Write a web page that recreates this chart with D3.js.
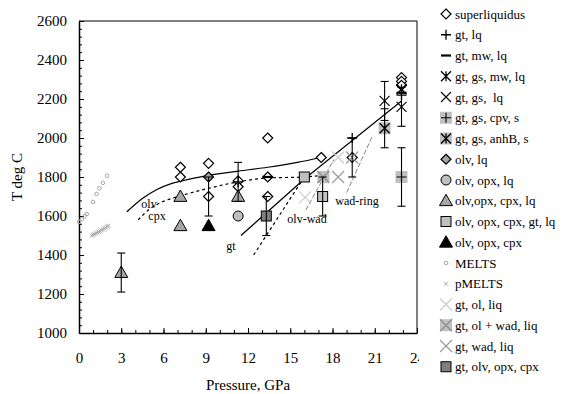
<!DOCTYPE html>
<html>
<head>
<meta charset="utf-8">
<script src="https://cdn.jsdelivr.net/npm/d3@7"></script>
<style>
  body { margin: 0; background: #fff; }
  svg text { font-family: "Liberation Serif", "DejaVu Serif", serif !important; }
  .leg text { white-space: pre; }
</style>
</head>
<body>
<svg id="chart" width="563" height="394"></svg>
<script>
// Data: [pressure GPa, T deg C]
var superliquidus = [[7.2,1850],[7.2,1800],[9.2,1870],[9.2,1700],[11.3,1780],[11.3,1750],
  [13.4,2000],[13.4,1800],[13.4,1700],[17.2,1900],[19.4,1900],[22.9,2310],[22.9,2290],[22.9,2270]];
var gtLq = [[11.3,1775],[19.4,2000],[22.9,2220]];
var gtMwLq = [[13.4,1800],[22.9,2232]];
var gtGsMwLq = [[22.9,2250]];
var gtGsLq = [[21.7,2190],[22.9,2160]];
var gtGsCpvS = [[22.9,1800]];
var gtGsAnhBS = [[21.7,2050]];
var olvLq = [[9.2,1800]];
var olvOpxLq = [[11.3,1600]];
var olvOpxCpxLq = [[3.0,1310],[7.2,1700],[7.2,1550],[11.3,1700]];
var olvOpxCpxGtLq = [[16.0,1800],[17.3,1700]];
var olvOpxCpx = [[9.2,1550]];
var melts = [[0.0,1570],[0.2,1583],[0.4,1598],[0.55,1610],[1.0,1672],[1.25,1713],[1.45,1742],[1.7,1770],[2.0,1806]];
var pmelts = [[0.9,1500],[1.0,1504],[1.1,1507],[1.2,1511],[1.3,1515],[1.4,1519],[1.5,1522],
  [1.6,1527],[1.7,1531],[1.8,1536],[1.9,1541],[2.0,1546],[2.08,1550]];
var gtOlLiq = [[16.05,1695],[18.4,1900]];
var gtOlWadLiq = [[17.35,1800]];
var gtWadLiq = [[18.4,1800],[19.4,1900]];
var gtOlvOpxCpx = [[13.3,1600]];

// error bars: [P, T, +/-]
var errorBars = [[3.0,1310,100],[9.2,1700,100],[11.3,1775,100],[13.3,1600,100],[17.3,1700,100],
  [19.4,1900,100],[21.7,2190,100],[21.7,2050,100],[22.9,2160,100],[22.9,1800,150]];

// phase boundary curves
var olvLine = [[3.4,1622],[4.5,1690],[5.5,1735],[6.5,1765],[7.2,1778],[9.2,1808],[11.3,1830],[13.4,1850],[15.5,1875],[17.2,1900]];
var cpxLine = [[4.2,1580],[5.0,1635],[6.0,1675],[7.2,1703],[9.2,1742],[11.3,1775],[13.4,1795],[16.0,1800],[17.4,1810]];
var gtLine = [[11.5,1500],[16.0,1790],[22.9,2190]];
var gtDashLine = [[12.4,1400],[16.0,1800]];
var olvWadLine = [[16.1,1630],[18.1,1890]];
var wadRingLine = [[19.0,1720],[20.8,2005]];

var xTicks = [0,3,6,9,12,15,18,21,24];
var yTicks = [1000,1200,1400,1600,1800,2000,2200,2400,2600];

var series = [
  {name:"superliquidus", type:"diamond", pts:superliquidus},
  {name:"gt, lq", type:"plus", pts:gtLq},
  {name:"gt, mw, lq", type:"dash", pts:gtMwLq},
  {name:"gt, gs, mw, lq", type:"star", pts:gtGsMwLq},
  {name:"gt, gs,  lq", type:"x", pts:gtGsLq},
  {name:"gt, gs, cpv, s", type:"sqplus", pts:gtGsCpvS},
  {name:"gt, gs, anhB, s", type:"sqstar", pts:gtGsAnhBS},
  {name:"olv, lq", type:"diamondGray", pts:olvLq},
  {name:"olv, opx, lq", type:"circle", pts:olvOpxLq},
  {name:"olv,opx, cpx, lq", type:"triangle", pts:olvOpxCpxLq},
  {name:"olv, opx, cpx, gt, lq", type:"square", pts:olvOpxCpxGtLq},
  {name:"olv, opx, cpx", type:"triBlack", pts:olvOpxCpx},
  {name:"MELTS", type:"melts", pts:melts},
  {name:"pMELTS", type:"pmelts", pts:pmelts},
  {name:"gt, ol, liq", type:"xLight", pts:gtOlLiq},
  {name:"gt, ol + wad, liq", type:"sqx", pts:gtOlWadLiq},
  {name:"gt, wad, liq", type:"xGray", pts:gtWadLiq},
  {name:"gt, olv, opx, cpx", type:"squareDark", pts:gtOlvOpxCpx}
];

var svg = d3.select("#chart");
var x = d3.scaleLinear().domain([0,24]).range([79,417]);
var y = d3.scaleLinear().domain([1000,2600]).range([333,21]);

// frame: grey top, black right
svg.append("line").attr("x1",x(0)).attr("x2",x(24)).attr("y1",y(2600)).attr("y2",y(2600))
  .attr("stroke","#808080").attr("stroke-width",2);
svg.append("line").attr("x1",x(24)).attr("x2",x(24)).attr("y1",y(2600)).attr("y2",y(1000))
  .attr("stroke","#000").attr("stroke-width",1);

// axes with inside ticks
var yMinor = d3.range(1000,2601,40);
svg.append("g").attr("transform","translate(" + x(0) + ",0)")
  .call(d3.axisLeft(y).tickValues(yMinor).tickSize(-3).tickFormat(""))
  .call(function(g){ g.select(".domain").remove(); });
svg.append("g").attr("transform","translate(" + x(0) + ",0)")
  .call(d3.axisLeft(y).tickValues(yTicks).tickFormat(d3.format("d")).tickSizeInner(-5).tickSizeOuter(0).tickPadding(12))
  .call(function(g){
    g.select(".domain").attr("stroke-width",1.5);
    g.selectAll("text").attr("font-size",15).attr("fill","#000");
  });

svg.append("g").attr("transform","translate(0," + y(1000) + ")")
  .call(d3.axisBottom(x).tickValues(d3.range(0,25,1)).tickSize(-3).tickFormat(""))
  .call(function(g){ g.select(".domain").remove(); });
svg.append("g").attr("transform","translate(0," + y(1000) + ")")
  .call(d3.axisBottom(x).tickValues(xTicks).tickFormat(d3.format("d")).tickSizeInner(-5).tickSizeOuter(0).tickPadding(19))
  .call(function(g){
    g.select(".domain").attr("stroke-width",1.5);
    g.selectAll("text").attr("font-size",15).attr("fill","#000");
  });

// axis titles
svg.append("text").attr("transform","translate(22,177) rotate(-90)").attr("text-anchor","middle")
  .attr("font-size",15).text("T deg C");
svg.append("text").attr("x",248).attr("y",390).attr("text-anchor","middle")
  .attr("font-size",15).text("Pressure, GPa");

// phase boundaries
var lineGen = d3.line().x(function(d){return x(d[0]);}).y(function(d){return y(d[1]);});
var curveGen = d3.line().x(function(d){return x(d[0]);}).y(function(d){return y(d[1]);}).curve(d3.curveMonotoneX);
function addLine(data, gen, color, width, dash) {
  svg.append("path").datum(data).attr("d", gen).attr("fill","none")
    .attr("stroke", color).attr("stroke-width", width).attr("stroke-dasharray", dash || null);
}
addLine(olvLine, curveGen, "#000", 1.2);
addLine(cpxLine, curveGen, "#000", 1.2, "3,3");
addLine(gtLine, lineGen, "#000", 1.2);
addLine(gtDashLine, lineGen, "#000", 1.2, "3,3");
addLine(olvWadLine, lineGen, "#666", 0.8, "5,2");
addLine(wadRingLine, lineGen, "#666", 0.8, "5,2");

// line labels
var lineLabels = [["olv",149,208],["cpx",157,220],["gt",231,250],["olv-wad",307,223],["wad-ring",357,205]];
lineLabels.forEach(function(l){
  svg.append("text").attr("x",l[1]).attr("y",l[2]).attr("text-anchor","middle")
    .attr("font-size",12).text(l[0]);
});

// marker shapes
function drawMarker(g, type, cx, cy) {
  var s = 5;
  function xPath(r){ return "M"+(cx-r)+","+(cy-r)+"L"+(cx+r)+","+(cy+r)+"M"+(cx-r)+","+(cy+r)+"L"+(cx+r)+","+(cy-r); }
  function plusPath(r){ return "M"+(cx-r)+","+cy+"L"+(cx+r)+","+cy+"M"+cx+","+(cy-r)+"L"+cx+","+(cy+r); }
  function sq(fill, stroke, r){
    g.append("rect").attr("x",cx-r).attr("y",cy-r).attr("width",2*r).attr("height",2*r)
      .attr("fill",fill).attr("stroke",stroke || "none").attr("stroke-width",1);
  }
  function tri(fill){
    var r = 6.5;
    g.append("path").attr("d","M"+cx+","+(cy-r)+"L"+(cx+r)+","+(cy+r*0.75)+"L"+(cx-r)+","+(cy+r*0.75)+"Z")
      .attr("fill",fill).attr("stroke","#000").attr("stroke-width",1);
  }
  if (type==="diamond" || type==="diamondGray") {
    g.append("path").attr("d","M"+cx+","+(cy-s)+"L"+(cx+s)+","+cy+"L"+cx+","+(cy+s)+"L"+(cx-s)+","+cy+"Z")
      .attr("fill", type==="diamond" ? "#fff" : "#a6a6a6").attr("stroke","#000").attr("stroke-width",1.2);
  } else if (type==="plus") {
    g.append("path").attr("d",plusPath(5)).attr("stroke","#000").attr("stroke-width",1.3);
  } else if (type==="dash") {
    g.append("path").attr("d","M"+(cx-5)+","+cy+"L"+(cx+5)+","+cy).attr("stroke","#000").attr("stroke-width",2.2);
  } else if (type==="star") {
    g.append("path").attr("d",xPath(5)+"M"+cx+","+(cy-5)+"L"+cx+","+(cy+5)).attr("stroke","#000").attr("stroke-width",1.3);
  } else if (type==="x") {
    g.append("path").attr("d",xPath(5)).attr("stroke","#000").attr("stroke-width",1.1);
  } else if (type==="sqplus") {
    sq("#c0c0c0", null, 6);
    g.append("path").attr("d",plusPath(5)).attr("stroke","#000").attr("stroke-width",1.1);
  } else if (type==="sqstar") {
    sq("#c0c0c0", null, 6);
    g.append("path").attr("d",xPath(5)+"M"+cx+","+(cy-5)+"L"+cx+","+(cy+5)).attr("stroke","#000").attr("stroke-width",1.3);
  } else if (type==="circle") {
    g.append("circle").attr("cx",cx).attr("cy",cy).attr("r",5)
      .attr("fill","#bfbfbf").attr("stroke","#000").attr("stroke-width",1);
  } else if (type==="triangle") {
    tri("#a6a6a6");
  } else if (type==="triBlack") {
    tri("#000");
  } else if (type==="square") {
    sq("#c0c0c0", "#000", 5);
  } else if (type==="squareDark") {
    sq("#808080", "#000", 5);
  } else if (type==="melts") {
    g.append("circle").attr("cx",cx).attr("cy",cy).attr("r",1.8)
      .attr("fill","none").attr("stroke","#a6a6a6").attr("stroke-width",1);
  } else if (type==="pmelts") {
    g.append("path").attr("d",xPath(2)).attr("stroke","#a6a6a6").attr("stroke-width",1);
  } else if (type==="xLight") {
    g.append("path").attr("d",xPath(6)).attr("stroke","#cccccc").attr("stroke-width",1.1);
  } else if (type==="xGray") {
    g.append("path").attr("d",xPath(6)).attr("stroke","#999999").attr("stroke-width",1.1);
  } else if (type==="sqx") {
    sq("#c0c0c0", null, 6);
    g.append("path").attr("d",xPath(6)).attr("stroke","#8c8c8c").attr("stroke-width",1.1);
  }
}

var marks = svg.append("g");
series.forEach(function(s){
  s.pts.forEach(function(p){ drawMarker(marks, s.type, x(p[0]), y(p[1])); });
});

// error bars on top
var eb = svg.append("g").attr("stroke","#000").attr("stroke-width",1.1);
errorBars.forEach(function(e){
  var cx = x(e[0]), y0 = y(e[1]-e[2]), y1 = y(e[1]+e[2]);
  eb.append("line").attr("x1",cx).attr("x2",cx).attr("y1",y0).attr("y2",y1);
  eb.append("line").attr("x1",cx-4).attr("x2",cx+4).attr("y1",y0).attr("y2",y0);
  eb.append("line").attr("x1",cx-4).attr("x2",cx+4).attr("y1",y1).attr("y2",y1);
});

// legend (white box hides part of the last tick label)
var leg = svg.append("g").attr("class","leg");
leg.append("rect").attr("x",419).attr("y",0).attr("width",144).attr("height",394).attr("fill","#fff");
series.forEach(function(s, i){
  var ly = 14 + i*20.75;
  drawMarker(leg, s.type, 446, ly);
  leg.append("text").attr("x",455).attr("y",ly).attr("dy","0.35em")
    .attr("font-size",13).text(s.name);
});
</script>
</body>
</html>
